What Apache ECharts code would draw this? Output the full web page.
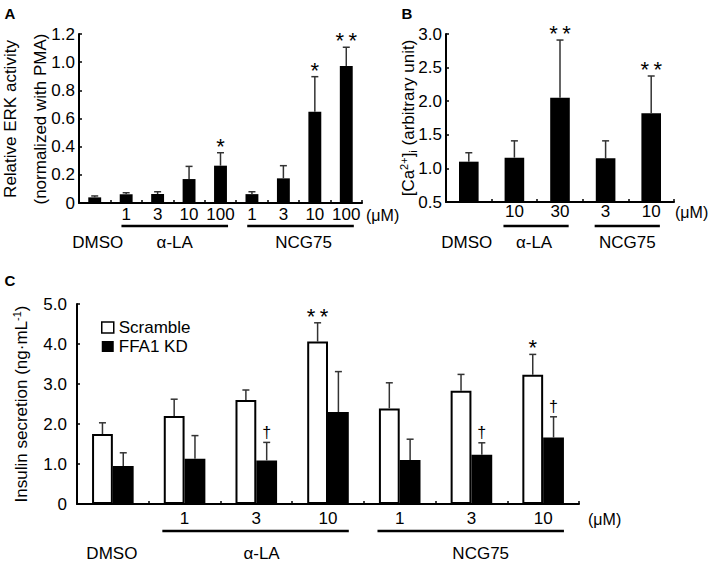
<!DOCTYPE html>
<html><head><meta charset="utf-8">
<script src="https://cdn.jsdelivr.net/npm/echarts@6/dist/echarts.min.js"></script>
<style>html,body{margin:0;padding:0;background:#fff}#c{width:709px;height:563px}</style>
</head><body><div id="c"></div>
<script>
// ---------- Panel A: Relative ERK activity ----------
const catsA = ['DMSO','α-LA 1','α-LA 3','α-LA 10','α-LA 100','NCG75 1','NCG75 3','NCG75 10','NCG75 100'];
const ticksA = ['', '1', '3', '10', '100', '1', '3', '10', '100'];
const valA = [0.04, 0.062, 0.064, 0.17, 0.265, 0.063, 0.175, 0.648, 0.973];
const errTopA = [0.05, 0.073, 0.08, 0.26, 0.357, 0.08, 0.265, 0.897, 1.106];
const sigA = ['', '', '', '', '*', '', '', '*', '**'];
const groupsA = [['DMSO', 0, 0], ['α-LA', 1, 4], ['NCG75', 5, 8]];

// ---------- Panel B: [Ca2+]i ----------
const catsB = ['DMSO','α-LA 10','α-LA 30','NCG75 3','NCG75 10'];
const ticksB = ['', '10', '30', '3', '10'];
const valB = [1.10, 1.16, 2.05, 1.15, 1.82];
const errTopB = [1.233, 1.41, 2.91, 1.41, 2.375];
const sigB = ['', '', '**', '', '**'];
const groupsB = [['DMSO', 0, 0], ['α-LA', 1, 2], ['NCG75', 3, 4]];

// ---------- Panel C: Insulin secretion ----------
const catsC = ['DMSO','α-LA 1','α-LA 3','α-LA 10','NCG75 1','NCG75 3','NCG75 10'];
const ticksC = ['', '1', '3', '10', '1', '3', '10'];
const scrambleC = [1.75, 2.2, 2.6, 4.06, 2.39, 2.83, 3.23];
const scrambleErrTopC = [2.03, 2.62, 2.85, 4.53, 3.03, 3.24, 3.74];
const kdC = [0.95, 1.13, 1.09, 2.3, 1.1, 1.23, 1.66];
const kdErrTopC = [1.28, 1.71, 1.54, 3.31, 1.62, 1.53, 2.18];
const sigScrambleC = ['', '', '', '**', '', '', '*'];
const sigKdC = ['', '', '†', '', '', '†', '†'];
const groupsC = [['DMSO', 0, 0], ['α-LA', 1, 3], ['NCG75', 4, 6]];

const FONT = "'Liberation Sans', Arial, Helvetica, sans-serif";
const FS = 17;

const grids = [
  {left: 79, top: 34, width: 283, height: 169},
  {left: 446, top: 34, width: 228, height: 168},
  {left: 77, top: 304, width: 502, height: 200}
];

function xAxisFor(gi, cats, ticks, margin) {
  return {
    type: 'category', gridIndex: gi, data: cats,
    axisLine: {show: true, lineStyle: {color: '#000', width: 2}},
    axisTick: {show: true, inside: true, length: 3, interval: 0, lineStyle: {color: '#000', width: 1.5}},
    axisLabel: {interval: 0, margin: margin, color: '#000', fontFamily: FONT, fontSize: FS, lineHeight: 17,
      formatter: (v, i) => ticks[i]},
    splitLine: {show: false}
  };
}
function yAxisFor(gi, min, max, interval, fmt, margin) {
  return {
    type: 'value', gridIndex: gi, min: min, max: max, interval: interval,
    axisLine: {show: true, lineStyle: {color: '#000', width: 2}},
    axisTick: {show: true, inside: true, length: 3, lineStyle: {color: '#000', width: 1.5}},
    axisLabel: {margin: margin, color: '#000', fontFamily: FONT, fontSize: FS, formatter: fmt},
    splitLine: {show: false}
  };
}
const fmt1 = v => (v === 0 ? '0' : v.toFixed(1));

function errSeries(gi, vals, tops, sigs, offsetFrac) {
  return {
    type: 'custom', xAxisIndex: gi, yAxisIndex: gi, z: 5,
    data: vals.map((v, i) => [i, v, tops[i]]),
    renderItem: function (params, api) {
      const i = api.value(0), v = api.value(1), top = api.value(2);
      const bw = api.size([1, 0])[0];
      const p0 = api.coord([i, v]);
      const p1 = api.coord([i, top]);
      const x = p0[0] + offsetFrac * bw;
      const children = [
        {type: 'line', shape: {x1: x, y1: p0[1], x2: x, y2: p1[1]}, style: {stroke: '#333', lineWidth: 1.5}},
        {type: 'line', shape: {x1: x - 3.5, y1: p1[1], x2: x + 3.5, y2: p1[1]}, style: {stroke: '#333', lineWidth: 1.5}}
      ];
      const s = sigs[params.dataIndex];
      if (s) {
        const isStar = s.indexOf('*') >= 0;
        children.push({type: 'text', x: x, y: p1[1] - (isStar ? 6.5 : 10),
          style: {text: isStar ? s.split('').join('\u2009') : s, fill: '#000',
            font: (isStar ? 22 : 16) + 'px ' + FONT, align: 'center', verticalAlign: 'middle'}});
      }
      return {type: 'group', children: children};
    }
  };
}

const chart = echarts.init(document.getElementById('c'), null, {renderer: 'svg'});

const option = {
  animation: false,
  backgroundColor: '#fff',
  textStyle: {fontFamily: FONT},
  grid: grids,
  legend: {
    orient: 'vertical', left: 96, top: 314, itemWidth: 12, itemHeight: 11, itemGap: 2,
    icon: 'rect',
    textStyle: {fontSize: FS, fontFamily: FONT, color: '#000', lineHeight: 15},
    data: [
      {name: 'Scramble', itemStyle: {color: '#fff', borderColor: '#000', borderWidth: 1.5}},
      {name: 'FFA1 KD', itemStyle: {color: '#000'}}
    ]
  },
  xAxis: [
    xAxisFor(0, catsA, ticksA, 3),
    xAxisFor(1, catsB, ticksB, 1),
    xAxisFor(2, catsC, ticksC, 6)
  ],
  yAxis: [
    yAxisFor(0, 0, 1.2, 0.2, fmt1, 4),
    yAxisFor(1, 0.5, 3.0, 0.5, fmt1, 4),
    yAxisFor(2, 0, 5, 1, fmt1, 10)
  ],
  series: [
    {type: 'bar', xAxisIndex: 0, yAxisIndex: 0, data: valA, barWidth: '41%', itemStyle: {color: '#000'}},
    errSeries(0, valA, errTopA, sigA, 0),
    {type: 'bar', xAxisIndex: 1, yAxisIndex: 1, data: valB, barWidth: '43%', itemStyle: {color: '#000'}},
    errSeries(1, valB, errTopB, sigB, 0),
    {name: 'Scramble', type: 'bar', xAxisIndex: 2, yAxisIndex: 2, data: scrambleC, barWidth: '29%', barGap: '0%',
      itemStyle: {color: '#fff', borderColor: '#000', borderWidth: 2}},
    {name: 'FFA1 KD', type: 'bar', xAxisIndex: 2, yAxisIndex: 2, data: kdC, barWidth: '29%', barGap: '0%',
      itemStyle: {color: '#000'}},
    errSeries(2, scrambleC, scrambleErrTopC, sigScrambleC, -0.145),
    errSeries(2, kdC, kdErrTopC, sigKdC, 0.145)
  ]
};
chart.setOption(option);

// ---------- annotations: group lines, group labels, unit, axis titles ----------
const graphics = [];
function txt(x, y, text, extra) {
  graphics.push(Object.assign({type: 'text', x: x, y: y,
    style: Object.assign({text: text, fill: '#000', font: FS + 'px ' + FONT, align: 'center', verticalAlign: 'middle'}, (extra && extra.style) || {})},
    extra && extra.rotation !== undefined ? {rotation: extra.rotation} : {}));
}
function groupLayer(g, groups, n, labelY, lineY, labelRowY, ext, dx, unitGap) {
  const cw = g.width / n;
  const c = i => g.left + (i + 0.5) * cw;
  groups.forEach((gr, k) => {
    const [name, a, b] = gr;
    let mid = (c(a) + c(b)) / 2;
    if (b > a) {
      const x1 = c(a) - ext[0] * cw, x2 = c(b) + ext[1] * cw;
      graphics.push({type: 'line', shape: {x1: x1, y1: lineY, x2: x2, y2: lineY}, style: {stroke: '#000', lineWidth: 2.5}});
      mid = (x1 + x2) / 2;
    }
    txt(mid + dx[k], labelY, name);
  });
  graphics.push({type: 'text', x: g.left + g.width + unitGap, y: labelRowY,
    style: {text: '(μM)', fill: '#000', font: '16px ' + FONT, align: 'left', verticalAlign: 'middle'}});
}
groupLayer(grids[0], groupsA, 9, 242, 226, 215, [0.15, 0.24], [3, 0, 3], 4);
groupLayer(grids[1], groupsB, 5, 242, 226, 212, [0.24, 0.19], [-2, -2, 0], 1);
groupLayer(grids[2], groupsC, 7, 553, 531, 519, [0.31, 0.29], [-1, 6, 10], 9);

// y-axis titles
txt(10, 119, 'Relative ERK activity', {rotation: Math.PI / 2});
txt(40, 119, '(normalized with PMA)', {rotation: Math.PI / 2});
graphics.push({type: 'text', x: 408, y: 118, rotation: Math.PI / 2,
  style: {text: '[Ca{sup|2+}]{sub|i} (arbitrary unit)', fill: '#000', font: FS + 'px ' + FONT,
    align: 'center', verticalAlign: 'middle',
    rich: {sup: {fontSize: 11, fontFamily: FONT, verticalAlign: 'top', lineHeight: 20},
           sub: {fontSize: 11, fontFamily: FONT, verticalAlign: 'bottom', lineHeight: 20}}}});
graphics.push({type: 'text', x: 21, y: 404, rotation: Math.PI / 2,
  style: {text: 'Insulin secretion (ng·mL{sup|-1})', fill: '#000', font: FS + 'px ' + FONT,
    align: 'center', verticalAlign: 'middle',
    rich: {sup: {fontSize: 11, fontFamily: FONT, verticalAlign: 'top', lineHeight: 20}}}});

// panel letters
['A', 'B', 'C'].forEach((L, k) => {
  const pos = [[10, 13], [407, 13], [10, 280]][k];
  graphics.push({type: 'text', x: pos[0], y: pos[1],
    style: {text: L, fill: '#000', font: 'bold 15px ' + FONT, align: 'center', verticalAlign: 'middle'}});
});

chart.setOption({graphic: graphics});
</script>
</body></html>
